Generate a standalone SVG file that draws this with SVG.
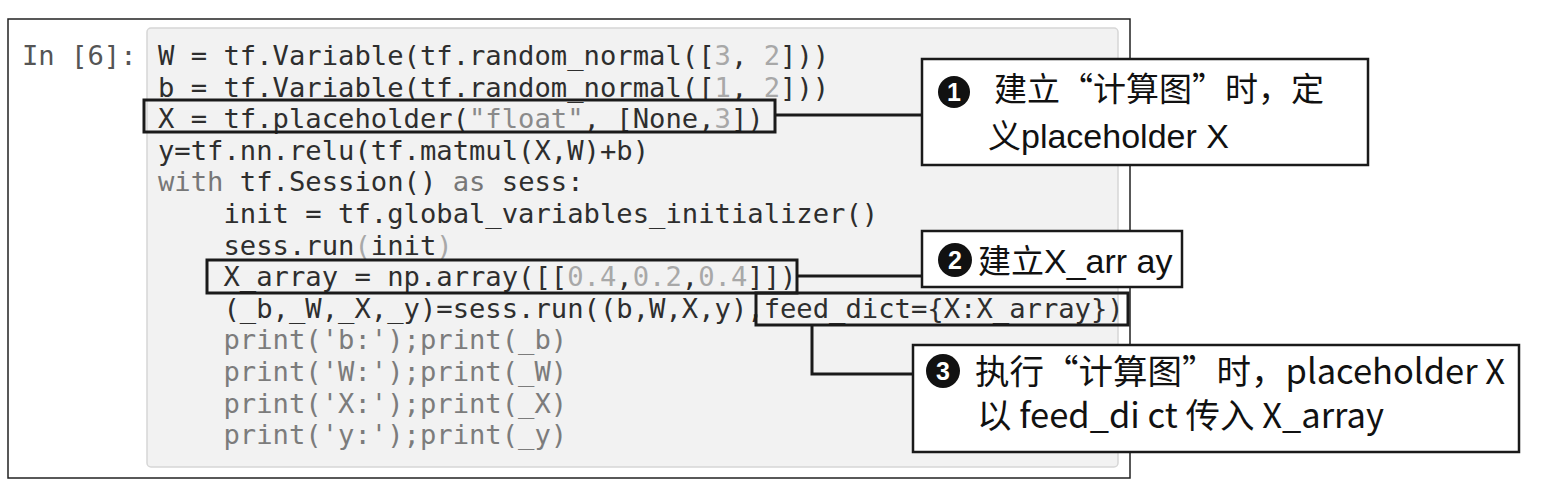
<svg xmlns="http://www.w3.org/2000/svg" width="1561" height="497" viewBox="0 0 1561 497">
<style>
.code{font-family:"DejaVu Sans Mono","Liberation Mono",monospace;font-size:27.2px;fill:#2e2e2e;white-space:pre}
.k{fill:#777}
.s{fill:#8a8a8a}
.n{fill:#a8a8a8}
.p{fill:#7c7c7c}
.prompt{font-family:"DejaVu Sans Mono","Liberation Mono",monospace;font-size:27.2px;fill:#555;white-space:pre}
.hl{fill:none;stroke:#1a1a1a;stroke-width:3}
.conn{fill:none;stroke:#1a1a1a;stroke-width:3}
.box{fill:#fff;stroke:#1a1a1a;stroke-width:2.5}
.lbl{font-family:"Noto Sans CJK SC",sans-serif;font-size:33px;fill:#111;white-space:pre}
.lat{font-family:"Liberation Sans","Noto Sans CJK SC",sans-serif}
.lbl3{font-family:"Noto Sans CJK SC",sans-serif;font-size:34.5px;fill:#111;white-space:pre}
.num{font-family:"Liberation Sans",sans-serif;font-size:25px;font-weight:bold;fill:#fff;text-anchor:middle}
</style>
<rect width="1561" height="497" fill="#fff"/>
<g id="frame">
<rect x="8" y="19" width="1122" height="459" fill="none" stroke="#222" stroke-width="1.5"/>
</g>
<g id="code-cell">
<rect x="147" y="28" width="971" height="439" rx="4" fill="#f2f2f2" stroke="#d6d6d6" stroke-width="1.5"/>
<text class="prompt" x="22" y="65">In [6]:</text>
<text class="code" x="158" y="65">W = tf.Variable(tf.random_normal([<tspan class="n">3</tspan>, <tspan class="n">2</tspan>]))</text>
<text class="code" x="158" y="96.6">b = tf.Variable(tf.random_normal([<tspan class="n">1</tspan>, <tspan class="n">2</tspan>]))</text>
<text class="code" x="158" y="128.2">X = tf.placeholder(<tspan class="s">"float"</tspan>, [None,<tspan class="n">3</tspan>])</text>
<text class="code" x="158" y="159.8">y=tf.nn.relu(tf.matmul(X,W)+b)</text>
<text class="code" x="158" y="191.4"><tspan class="k">with</tspan> tf.Session() <tspan class="k">as</tspan> sess:</text>
<text class="code" x="158" y="223">    init = tf.global_variables_initializer()</text>
<text class="code" x="158" y="254.6">    sess.run<tspan class="n">(</tspan>init<tspan class="n">)</tspan></text>
<text class="code" x="158" y="286.2">    X_array = np.array([[<tspan class="n">0.4</tspan>,<tspan class="n">0.2</tspan>,<tspan class="n">0.4</tspan>]])</text>
<text class="code" x="158" y="317.8">    (_b,_W,_X,_y)=sess.run((b,W,X,y),feed_dict={X:X_array})</text>
<text class="code p" x="158" y="349.4">    print('b:');print(_b)</text>
<text class="code p" x="158" y="381">    print('W:');print(_W)</text>
<text class="code p" x="158" y="412.6">    print('X:');print(_X)</text>
<text class="code p" x="158" y="444.2">    print('y:');print(_y)</text>
</g>
<g id="connectors">
<rect class="hl" x="144" y="100" width="631" height="32"/>
<rect class="hl" x="207" y="260" width="590" height="33"/>
<rect class="hl" x="756" y="293" width="372" height="32"/>
<line class="conn" x1="775" y1="115" x2="922" y2="115"/>
<line class="conn" x1="797" y1="276" x2="922" y2="276"/>
<polyline class="conn" points="812,325 812,374 913,374"/>
</g>
<g id="callout-1">
<rect class="box" x="922" y="59" width="446" height="106"/>
<circle cx="954" cy="92" r="16" fill="#111"/>
<text class="num" x="954" y="101">1</text>
<text class="lbl" x="994" y="101">建立“计算图”时，定</text>
<text class="lbl" x="988" y="148">义<tspan class="lat" font-size="34">placeholder X</tspan></text>
</g>
<g id="callout-2">
<rect class="box" x="922" y="231" width="260" height="56"/>
<circle cx="955" cy="260" r="17" fill="#111"/>
<text class="num" x="955" y="269">2</text>
<text class="lbl" x="978" y="273">建立<tspan class="lat" font-size="34">X_arr ay</tspan></text>
</g>
<g id="callout-3">
<rect class="box" x="913" y="345" width="606" height="107"/>
<circle cx="943" cy="371" r="17" fill="#111"/>
<text class="num" x="943" y="380">3</text>
<text class="lbl3" x="975" y="384">执行“计算图”时，placeholder X</text>
<text class="lbl3" x="977" y="428">以 feed_di ct 传入 X_array</text>
</g>
</svg>
